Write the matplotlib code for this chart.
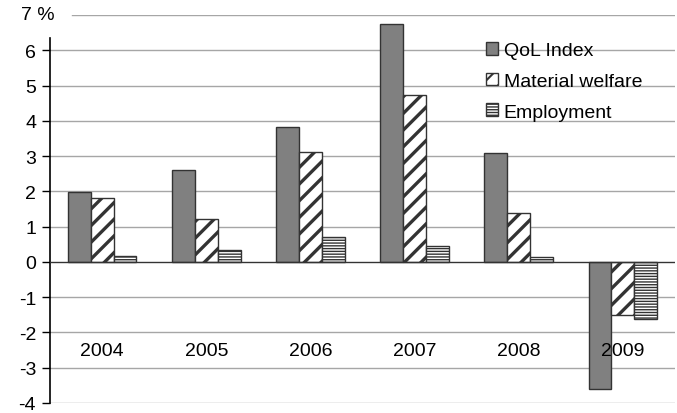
import numpy as np
import matplotlib
matplotlib.use("Agg")
import matplotlib.pyplot as plt

years = ['2004', '2005', '2006', '2007', '2008', '2009']
qol = [1.98, 2.6, 3.82, 6.75, 3.1, -3.6]
material = [1.8, 1.23, 3.12, 4.72, 1.4, -1.5]
employment = [0.18, 0.33, 0.72, 0.45, 0.13, -1.62]
series_names = ['QoL Index', 'Material welfare', 'Employment']

plt.rcParams['font.family'] = ['Liberation Sans', 'DejaVu Sans']
plt.rcParams['font.size'] = 14
plt.rcParams['hatch.linewidth'] = 2.4
plt.rcParams['hatch.color'] = 'black'

fig = plt.figure(figsize=(6.77, 4.14), dpi=100)
ax = fig.add_axes([50 / 677, 10 / 414, 625 / 677, 388 / 414])

x = np.arange(len(years))
w = 0.22
edge = '#333333'
ax.bar(x - w, qol, w, color='#808080', edgecolor=edge, linewidth=1, label=series_names[0], zorder=3)
ax.bar(x, material, w, color='white', edgecolor=edge, linewidth=1, hatch='//', label=series_names[1], zorder=3)
b3 = ax.bar(x + w, employment, w, color='white', edgecolor=edge, linewidth=1, hatch='------', label=series_names[2], zorder=3)
for p in b3:
    p.set_hatch_linewidth(1.0)

ax.set_xlim(-0.5, len(years) - 0.5)
ax.set_ylim(-4, 7)
ax.set_yticks(range(-4, 7))
ax.set_yticklabels([str(v) for v in range(-4, 7)])
ax.tick_params(axis='y', length=6, width=1, pad=4)
ax.set_xticks([])

for v in range(-4, 7):
    if v != 0:
        ax.axhline(v, color='#a6a6a6', linewidth=1, zorder=1)
ax.plot([22 / 625, 1], [7, 7], color='#a6a6a6', linewidth=1,
        transform=ax.get_yaxis_transform(), zorder=1)
ax.axhline(0, color='#333333', linewidth=1, zorder=4)

for s in ['top', 'right', 'bottom']:
    ax.spines[s].set_visible(False)
ax.spines['left'].set_bounds(-4, 6.35)
ax.spines['left'].set_linewidth(1.2)

fig.text(21 / 677, 1 - 16 / 414, '7 %', ha='left', va='center', fontsize=14)

for i, yr in enumerate(years):
    ax.text(i, -2.5, yr, ha='center', va='center', fontsize=14)

leg = ax.legend(loc='upper left', bbox_to_anchor=(0.67, 0.975), frameon=False,
                handlelength=0.6, handleheight=0.6, handletextpad=0.3,
                labelspacing=0.7, fontsize=14)
leg.legend_handles[2].set_hatch_linewidth(1.0)
leg.legend_handles[1].set_hatch_linewidth(1.5)

fig.savefig('out.png', dpi=100)
